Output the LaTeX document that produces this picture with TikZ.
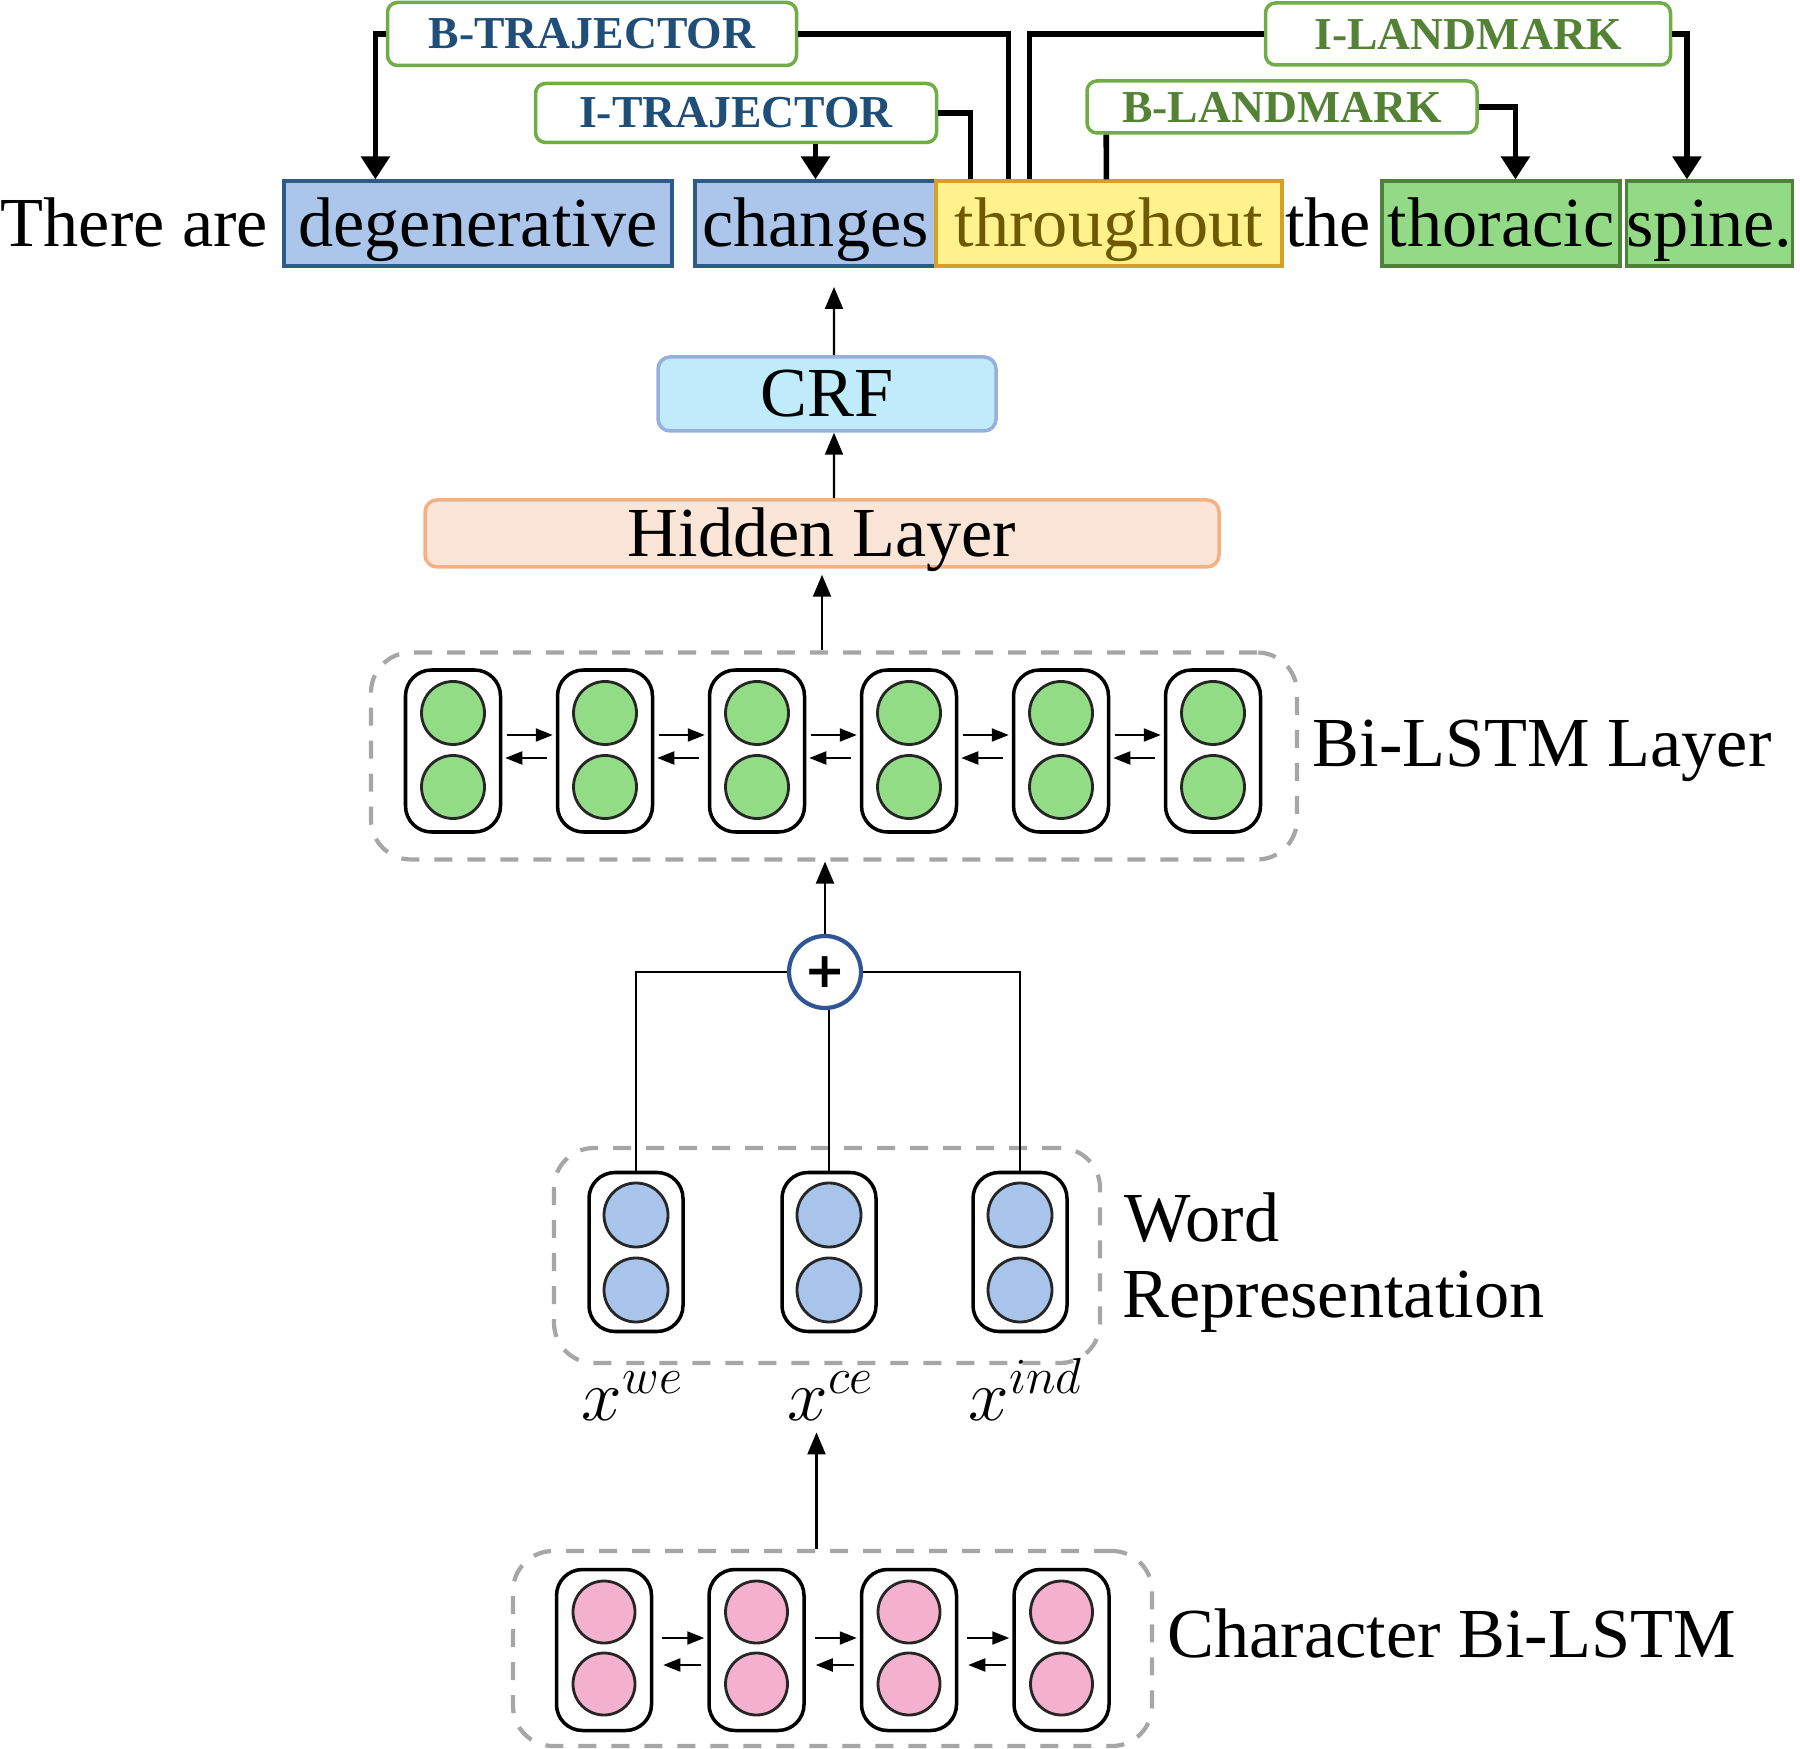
\documentclass[tikz,border=0pt]{standalone}
\usepackage{fontspec}
\setmainfont{Liberation Serif}
\newfontfamily\plusfont{DejaVu Sans}
\usetikzlibrary{arrows.meta}

\definecolor{wblue}{RGB}{172,197,234}
\definecolor{wblueline}{RGB}{46,90,135}
\definecolor{wyellow}{RGB}{255,241,140}
\definecolor{wyellowline}{RGB}{214,160,40}
\definecolor{wyellowtext}{RGB}{110,88,0}
\definecolor{wgreen}{RGB}{147,218,134}
\definecolor{wgreenline}{RGB}{78,130,58}
\definecolor{tagedge}{RGB}{112,173,71}
\definecolor{tagblue}{RGB}{31,78,121}
\definecolor{taggreen}{RGB}{84,130,53}
\definecolor{crffill}{RGB}{191,235,251}
\definecolor{crfline}{RGB}{150,175,220}
\definecolor{hidfill}{RGB}{251,229,214}
\definecolor{hidline}{RGB}{244,177,131}
\definecolor{ugreen}{RGB}{147,220,134}
\definecolor{ublue}{RGB}{169,196,235}
\definecolor{upink}{RGB}{244,177,206}
\definecolor{dashgray}{RGB}{166,166,166}
\definecolor{plusline}{RGB}{47,85,151}

\tikzset{
  wordbox/.style={draw, line width=0.9pt, inner sep=0pt, minimum height=8.5mm, text height=15pt, text depth=2pt, font=\fontsize{20}{24}\selectfont},
  wordtxt/.style={inner sep=0pt, text height=15pt, text depth=2pt, font=\fontsize{20}{24}\selectfont},
  tagbox/.style={draw=tagedge, fill=white, line width=1pt, rounded corners=1mm, inner sep=0pt, font=\fontsize{13}{15}\selectfont\bfseries},
  tagline/.style={line width=1.6pt},
  tagarrow/.style={tagline, -{Triangle[width=2.8mm,length=2.3mm]}},
  upflow/.style={line width=0.6pt, -{Triangle[width=1.8mm,length=2.2mm]}},
  layerbox/.style={rounded corners=1.2mm, line width=1pt, inner sep=0pt, text height=15pt, text depth=2pt, font=\fontsize{20}{24}\selectfont},
  lstmcell/.style={draw, line width=1pt, rounded corners=2.6mm, minimum width=9.5mm, minimum height=16.2mm, inner sep=0pt},
  lstmunit/.style={circle, draw=black!85, line width=0.8pt, minimum size=6.3mm, inner sep=0pt},
  rnnflow/.style={line width=0.6pt, -{Triangle[width=1.3mm,length=1.7mm]}},
  dashgroup/.style={draw=dashgray, dash pattern=on 1.8mm off 1.5mm, line width=1.2pt, rounded corners=4mm, inner sep=0pt},
  sidelabel/.style={anchor=base west, inner sep=0pt, font=\fontsize{20}{24}\selectfont},
  mathlbl/.style={anchor=base, font=\fontsize{20}{24}\selectfont}
}

\begin{document}
\begin{tikzpicture}[x=0.1mm, y=-0.1mm]
\useasboundingbox (0,0) rectangle (1800,1749);

\node [wordtxt, anchor=west] (T0) at (0,223.5) {There are};
\node [wordbox, fill=wblue, draw=wblueline, minimum width=38.8mm] (W1) at (478,223.5) {degenerative};
\node [wordbox, fill=wblue, draw=wblueline, minimum width=24.1mm] (W2) at (815.5,223.5) {changes};
\node [wordbox, fill=wyellow, draw=wyellowline, text=wyellowtext, minimum width=34.6mm] (W3) at (1109,223.5) {throughout};
\node [wordtxt] (T4) at (1328,223.5) {the};
\node [wordbox, fill=wgreen, draw=wgreenline, minimum width=23.8mm] (W5) at (1501,223.5) {thoracic};
\node [wordbox, fill=wgreen, draw=wgreenline, minimum width=15.9mm] (W6) at (1709.5,223.5) {spine.};

\node [tagbox, text=tagblue, minimum width=40.9mm, minimum height=6.3mm] (BT) at (592,34) {B-TRAJECTOR};
\node [tagbox, text=tagblue, minimum width=40.1mm, minimum height=5.9mm] (IT) at (736,113) {I-TRAJECTOR};
\node [tagbox, text=taggreen, minimum width=40.5mm, minimum height=6.2mm] (IL) at (1468,34) {I-LANDMARK};
\node [tagbox, text=taggreen, minimum width=39mm, minimum height=5.2mm] (BL) at (1282,107) {B-LANDMARK};

\draw[tagarrow] (BT.west) -| ([xshift=9.3mm]W1.north west);
\draw[tagline] (BT.east) -| ([xshift=7.4mm]W3.north west);
\draw[tagarrow] (IT.south -| W2.north) -- (W2.north);
\draw[tagline] (IT.east) -| ([xshift=3.6mm]W3.north west);
\draw[tagline] (IL.west) -| ([xshift=9.5mm]W3.north west);
\draw[tagarrow] (IL.east) -| ([xshift=6.2mm]W6.north west);
\draw[tagline] ([xshift=2.1mm]BL.south west) -- ([xshift=17.2mm]W3.north west);
\draw[tagarrow] (BL.east) -| ([xshift=13.5mm]W5.north west);

\node [layerbox, fill=crffill, draw=crfline, minimum width=33.8mm, minimum height=7.4mm] (CRF) at (827,394) {CRF};
\node [layerbox, fill=hidfill, draw=hidline, minimum width=79.4mm, minimum height=6.7mm] (Hid) at (822,533.5) {Hidden Layer};
\coordinate (Out) at (834,287);
\draw[upflow] ([xshift=0.7mm]CRF.north) -- (Out);
\draw[upflow] ([xshift=1.2mm]Hid.north) -- ([xshift=0.7mm]CRF.south);

\node [dashgroup, minimum width=92.6mm, minimum height=20.7mm] (BiBox) at (834,756) {};
\foreach \i in {1,...,6} {
  \node [lstmcell] (B\i) at (301+152*\i,751) {};
  \node [lstmunit, fill=ugreen] (B\i top) at (301+152*\i,713) {};
  \node [lstmunit, fill=ugreen] (B\i bot) at (301+152*\i,787) {};
}
\foreach \i/\j in {1/2,2/3,3/4,4/5,5/6} {
  \draw[rnnflow] ([xshift=0.5mm,yshift=1.6mm]B\i.east) -- ([xshift=-0.3mm,yshift=1.6mm]B\j.west);
  \draw[rnnflow] ([xshift=-0.9mm,yshift=-0.7mm]B\j.west) -- ([xshift=0.3mm,yshift=-0.7mm]B\i.east);
}
\node [sidelabel] (BiLbl) at (1312,767) {Bi-LSTM Layer};
\draw[upflow] (Hid.south |- BiBox.north) -- ([yshift=-0.6mm]Hid.south);

\node [circle, draw=plusline, fill=white, line width=1.2pt, minimum size=7.2mm, inner sep=0pt, font=\plusfont\fontsize{14}{14}\selectfont\bfseries] (Plus) at (825,972) {+};
\draw[upflow] (Plus.north) -- (Plus.north |- BiBox.south);

\node [dashgroup, minimum width=54.6mm, minimum height=21.5mm] (WRBox) at (827,1255.5) {};
\foreach \i/\x in {1/636,2/829,3/1020} {
  \node [lstmcell, minimum width=9.4mm, minimum height=15.9mm] (R\i) at (\x,1252) {};
  \node [lstmunit, fill=ublue, minimum size=6.4mm] (R\i top) at (\x,1215) {};
  \node [lstmunit, fill=ublue, minimum size=6.4mm] (R\i bot) at (\x,1290) {};
}
\draw[line width=0.6pt] (R1.north) |- (Plus.west);
\draw[line width=0.6pt] (R2.north) -- (R2.north |- Plus.south);
\draw[line width=0.6pt] (R3.north) |- (Plus.east);
\node [sidelabel] (WLbl) at (1124,1241) {Word};
\node [sidelabel] (RLbl) at (1122,1317) {Representation};

\node [mathlbl] (Xwe) at (633,1420) {$x^{we}$};
\node [mathlbl] (Xce) at (831,1420) {$x^{ce}$};
\node [mathlbl] (Xind) at (1026,1420) {$x^{ind}$};

\node [dashgroup, minimum width=63.9mm, minimum height=19.5mm] (CharBox) at (832.5,1648.5) {};
\foreach \i in {1,...,4} {
  \node [lstmcell, minimum height=16.1mm] (C\i) at (451.5+152.5*\i,1650) {};
  \node [lstmunit, fill=upink, minimum size=6.2mm] (C\i top) at (451.5+152.5*\i,1612) {};
  \node [lstmunit, fill=upink, minimum size=6.2mm] (C\i bot) at (451.5+152.5*\i,1684) {};
}
\foreach \i/\j in {1/2,2/3,3/4} {
  \draw[rnnflow] ([xshift=0.9mm,yshift=1.2mm]C\i.east) -- ([xshift=-0.3mm,yshift=1.2mm]C\j.west);
  \draw[rnnflow] ([xshift=-0.6mm,yshift=-1.5mm]C\j.west) -- ([xshift=1mm,yshift=-1.5mm]C\i.east);
}
\node [sidelabel] (CLbl) at (1167,1657) {Character Bi-LSTM};
\draw[upflow] ([xshift=-1.6mm]CharBox.north) -- ([xshift=-1.6mm]CharBox.north |- Xce.south);
\end{tikzpicture}
\end{document}
